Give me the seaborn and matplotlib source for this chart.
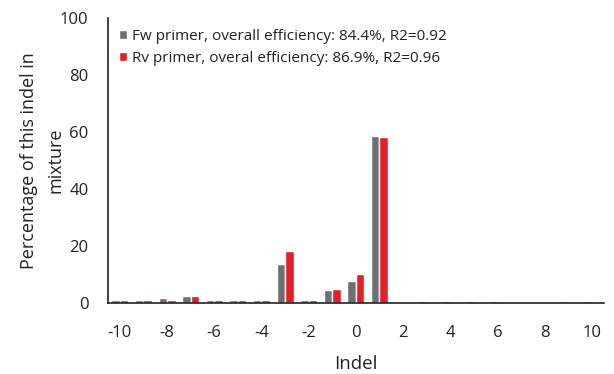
import pandas as pd
import seaborn as sns
import matplotlib.pyplot as plt

indel = list(range(-10, 11))
fw_pct = [0.9, 0.9, 1.8, 2.5, 0.9, 0.9, 0.9, 13.5, 0.9, 4.7, 7.8, 58.5,
          0.0, 0.7, 0.7, 0.7, 0.7, 0.0, 0.0, 0.7, 0.7]
rv_pct = [0.9, 0.9, 0.9, 2.5, 0.9, 0.9, 0.9, 18.2, 0.9, 4.9, 10.2, 58.3,
          0.0, 0.0, 0.0, 0.0, 0.0, 0.0, 0.0, 0.0, 0.0]
series = ['Fw primer, overall efficiency: 84.4%, R2=0.92',
          'Rv primer, overal efficiency: 86.9%, R2=0.96']
tick_labels = [str(v) for v in range(-10, 11, 2)]

df = pd.DataFrame({
    'Indel': indel * 2,
    'pct': fw_pct + rv_pct,
    'series': [series[0]] * len(indel) + [series[1]] * len(indel),
})

sns.set_style('white')
plt.rcParams['font.family'] = ['Open Sans', 'DejaVu Sans']

fig = plt.figure(figsize=(6.14, 3.74), dpi=100)
ax = fig.add_axes([0.176, 0.19, 0.807, 0.762])

sns.barplot(data=df, x='Indel', y='pct', hue='series', order=indel,
            palette=['#6f6f72', '#e3202a'], width=0.72, saturation=1,
            ax=ax)

ax.set_ylim(0, 100)
ax.set_yticks(range(0, 101, 20))
ax.set_xticks(range(0, 21, 2))
ax.set_xticklabels(tick_labels)
ax.tick_params(axis='both', length=0, labelsize=12, colors='#222222')
ax.tick_params(axis='x', pad=16)
ax.tick_params(axis='y', pad=14)
ax.set_xlabel('Indel', fontsize=13.5, color='#222222', labelpad=10)
ax.set_ylabel('Percentage of this indel in\nmixture', fontsize=13,
              color='#222222', linespacing=1.6)
ax.yaxis.set_label_coords(-0.088, 0.5)

for side in ['top', 'right']:
    ax.spines[side].set_visible(False)
for side in ['left', 'bottom']:
    ax.spines[side].set_color('#222222')
    ax.spines[side].set_linewidth(1.2)

leg = ax.legend(loc='upper left', bbox_to_anchor=(0.0, 1.0), frameon=False,
                fontsize=11, handlelength=0.55, handleheight=0.55,
                handletextpad=0.3, labelspacing=0.5, borderaxespad=0.3)
for t in leg.get_texts():
    t.set_color('#222222')

fig.savefig('out.png', dpi=100)
